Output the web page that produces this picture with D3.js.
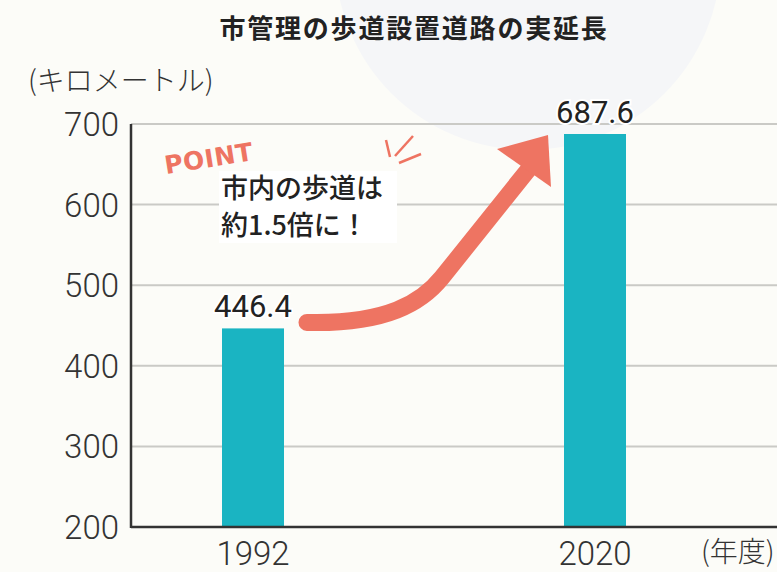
<!DOCTYPE html>
<html>
<head>
<meta charset="utf-8">
<script src="https://cdn.jsdelivr.net/npm/d3@7"></script>
<style>
  body { margin: 0; background: #fcfcf8; }
  svg { display: block; }
</style>
</head>
<body>
<script>
// data
var years = ["1992", "2020"];
var lengths = [446.4, 687.6];
var yTicks = [200, 300, 400, 500, 600, 700];
var valueLabels = ["446.4", "687.6"];

var W = 777, H = 572;
var BAR_W = 62;
var JP = "'Noto Sans CJK JP', 'Noto Sans', sans-serif";

var svg = d3.select("body").append("svg")
    .attr("width", W)
    .attr("height", H);

svg.append("rect").attr("width", W).attr("height", H).attr("fill", "#fcfcf8");

// pale circle behind the title
svg.append("circle")
    .attr("cx", 528).attr("cy", -43).attr("r", 193)
    .attr("fill", "#f5f6f8");

var x = d3.scalePoint().domain(years).range([253, 595]);
var y = d3.scaleLinear().domain([200, 700]).range([527, 124]);
var axisX = 131;

// grid lines
svg.append("g")
    .selectAll("line")
    .data(yTicks.slice(1))
    .enter()
    .append("line")
    .attr("x1", axisX).attr("x2", W)
    .attr("y1", d => y(d)).attr("y2", d => y(d))
    .style("stroke", "#cacac6")
    .style("stroke-width", 2);

// tick labels
svg.append("g")
    .selectAll("text")
    .data(yTicks)
    .enter()
    .append("text")
    .attr("x", 119)
    .attr("y", d => y(d) + 12)
    .attr("text-anchor", "end")
    .style("font-family", "Roboto, sans-serif")
    .style("font-weight", 300)
    .style("font-size", "33px")
    .style("fill", "#333")
    .text(d => d);

// bars
svg.append("g")
    .selectAll("rect")
    .data(lengths)
    .enter()
    .append("rect")
    .attr("x", (d, i) => x(years[i]) - BAR_W / 2)
    .attr("y", d => y(d))
    .attr("width", BAR_W)
    .attr("height", d => y(200) - y(d))
    .style("fill", "#1ab4c2");

// axes
svg.append("line")
    .attr("x1", axisX).attr("x2", axisX)
    .attr("y1", y(700)).attr("y2", y(200) + 1)
    .style("stroke", "#333").style("stroke-width", 2.5);
svg.append("line")
    .attr("x1", axisX).attr("x2", W)
    .attr("y1", y(200)).attr("y2", y(200))
    .style("stroke", "#333").style("stroke-width", 2.5);

// year labels
svg.append("g")
    .selectAll("text")
    .data(years)
    .enter()
    .append("text")
    .attr("x", d => x(d))
    .attr("y", 565)
    .attr("text-anchor", "middle")
    .style("font-family", "Roboto, sans-serif")
    .style("font-weight", 300)
    .style("font-size", "33px")
    .style("fill", "#333")
    .text(d => d);

svg.append("text")
    .attr("x", 701).attr("y", 562)
    .style("font-family", JP).style("font-weight", 300)
    .style("font-size", "28px").style("fill", "#333")
    .text("(年度)");

svg.append("text")
    .attr("x", 28).attr("y", 91)
    .style("font-family", JP).style("font-weight", 300)
    .style("font-size", "28px").style("fill", "#333")
    .text("(キロメートル)");

// value labels
svg.append("g")
    .selectAll("text")
    .data(lengths)
    .enter()
    .append("text")
    .attr("x", (d, i) => x(years[i]))
    .attr("y", d => y(d) - 11)
    .attr("text-anchor", "middle")
    .style("font-family", "Roboto, sans-serif")
    .style("font-size", "31px")
    .style("fill", "#222")
    .style("stroke", "#ffffff")
    .style("stroke-width", 4)
    .style("paint-order", "stroke")
    .text((d, i) => valueLabels[i]);

// title
svg.append("text")
    .attr("x", 414).attr("y", 38)
    .attr("text-anchor", "middle")
    .style("font-family", JP).style("font-weight", 700)
    .style("font-size", "26px").style("letter-spacing", "1.8px")
    .style("fill", "#222")
    .text("市管理の歩道設置道路の実延長");

// arrow from the 1992 bar to the 2020 bar
var sx = x("1992") + 54, sy = y(lengths[0]) - 6;
var tx = x("2020") - 47, ty = y(lengths[1]) + 1;
var arrowColor = "#ee7462";
svg.append("path")
    .attr("d", "M" + sx + "," + sy +
        " C" + (sx + 80) + "," + (sy + 2) + " " + (sx + 115) + "," + (sy - 20) + " " + (sx + 135) + "," + (sy - 45) +
        " L" + (tx - 20) + "," + (ty + 35))
    .style("fill", "none")
    .style("stroke", arrowColor)
    .style("stroke-width", 17)
    .style("stroke-linecap", "round")
    .style("stroke-linejoin", "round");
svg.append("path")
    .attr("d", "M" + (tx - 51) + "," + (ty + 14) + " L" + tx + "," + ty + " L" + (tx + 3) + "," + (ty + 52) + " Z")
    .style("fill", arrowColor);

// sparkle strokes
var sparks = [[386, 140, 390, 157], [395, 156, 413, 136], [399, 163, 421, 154]];
svg.append("g")
    .selectAll("line")
    .data(sparks)
    .enter()
    .append("line")
    .attr("x1", d => d[0]).attr("y1", d => d[1])
    .attr("x2", d => d[2]).attr("y2", d => d[3])
    .style("stroke", arrowColor)
    .style("stroke-width", 2.5);

// POINT label
svg.append("text")
    .attr("transform", "translate(166,174) rotate(-9)")
    .style("font-family", "'DejaVu Sans', sans-serif")
    .style("font-weight", 700)
    .style("font-size", "25px")
    .style("letter-spacing", "0.5px")
    .style("fill", arrowColor)
    .text("POINT");

// callout box
svg.append("rect")
    .attr("x", 219).attr("y", 171)
    .attr("width", 178).attr("height", 72)
    .style("fill", "#ffffff");
var callout = ["市内の歩道は", "約1.5倍に！"];
svg.append("g")
    .selectAll("text")
    .data(callout)
    .enter()
    .append("text")
    .attr("x", 221)
    .attr("y", (d, i) => 198 + i * 37)
    .style("font-family", JP)
    .style("font-weight", 500)
    .style("font-size", "27px")
    .style("fill", "#222")
    .text(d => d);
</script>
</body>
</html>
